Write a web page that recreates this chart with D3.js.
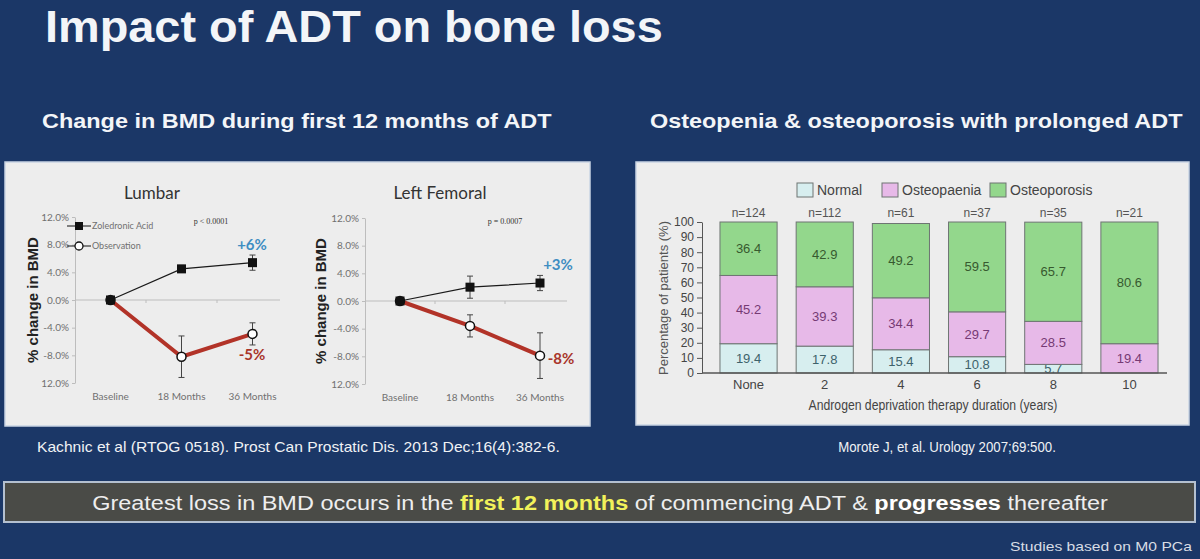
<!DOCTYPE html>
<html>
<head>
<meta charset="utf-8">
<script src="https://cdn.jsdelivr.net/npm/d3@7"></script>
<style>
  html, body { margin: 0; padding: 0; background: #1b3767; }
  svg { display: block; }
  text { white-space: pre; }
</style>
</head>
<body>
<svg id="chart" width="1200" height="559"></svg>
<script>
"use strict"

// BMD change (Kachnic et al)
const lineCategories = ["Baseline", "18 Months", "36 Months"]
const yTickValues = [12, 8, 4, 0, -4, -8, -12]
const yTickLabels = ["12.0%", "8.0%", "4.0%", "0.0%", "-4.0%", "-8.0%", "12.0%"]

const lumbarZol = [0, 4.5, 5.4]
const lumbarZolErr = [0, 0.5, 1.1]
const lumbarObs = [0, -8.2, -4.9]
const lumbarObsErr = [0, 3.0, 1.6]

const femoralZol = [0, 2.0, 2.6]
const femoralZolErr = [0, 1.6, 1.1]
const femoralObs = [0, -3.6, -7.9]
const femoralObsErr = [0, 1.6, 3.3]

// Osteopenia / osteoporosis (Morote et al)
const durations = ["None", "2", "4", "6", "8", "10"]
const nLabels = ["n=124", "n=112", "n=61", "n=37", "n=35", "n=21"]
const normal = [19.4, 17.8, 15.4, 10.8, 5.7, 0]
const osteopaenia = [45.2, 39.3, 34.4, 29.7, 28.5, 19.4]
const osteoporosis = [36.4, 42.9, 49.2, 59.5, 65.7, 80.6]
const stackNames = ["Normal", "Osteopaenia", "Osteoporosis"]

const svg = d3.select("#chart")
const sans = "'Liberation Sans', Arial, sans-serif"
const calibri = "Lato, 'Open Sans', sans-serif"
const narrow = "'Liberation Sans Narrow', 'Arial Narrow', 'Liberation Sans', sans-serif"

function fitWidth(sel, width) {
  let box = sel.node().getBBox()
  let anchor = sel.attr("text-anchor") || "start"
  let ax = anchor == "middle" ? box.x + box.width / 2 : anchor == "end" ? box.x + box.width : box.x
  let k = width / box.width
  sel.attr("transform", `translate(${ax},0) scale(${k},1) translate(${-ax},0)`)
}

svg.append("rect")
  .attr("width", 1200)
  .attr("height", 559)
  .attr("fill", "#1b3767")

// headings
fitWidth(svg.append("text")
  .attr("x", 45).attr("y", 42)
  .attr("font-family", sans).attr("font-weight", "bold").attr("font-size", 44)
  .attr("fill", "#f3f5f8")
  .text("Impact of ADT on bone loss"), 618)

fitWidth(svg.append("text")
  .attr("x", 42).attr("y", 128)
  .attr("font-family", sans).attr("font-weight", "bold").attr("font-size", 21)
  .attr("fill", "#f3f5f8")
  .text("Change in BMD during first 12 months of ADT"), 510)

fitWidth(svg.append("text")
  .attr("x", 650).attr("y", 128)
  .attr("font-family", sans).attr("font-weight", "bold").attr("font-size", 21)
  .attr("fill", "#f3f5f8")
  .text("Osteopenia & osteoporosis with prolonged ADT"), 533)

// panels
svg.append("rect")
  .attr("x", 5).attr("y", 162).attr("width", 585).attr("height", 264)
  .attr("fill", "#ededed").attr("stroke", "#c9d4e3").attr("stroke-width", 1.5)

svg.append("rect")
  .attr("x", 636).attr("y", 162).attr("width", 553).attr("height", 263)
  .attr("fill", "#ededed").attr("stroke", "#c9d4e3").attr("stroke-width", 1.5)

function drawLineChart(cfg) {
  let g = svg.append("g")
  let x = d3.scaleBand().domain(lineCategories).range(cfg.xRange)
  let y = d3.scaleLinear().domain([-12, 12]).range(cfg.yRange)
  let cx = (i) => x(lineCategories[i]) + x.bandwidth() / 2

  let axis = g.append("g")
    .attr("transform", `translate(${cfg.xRange[0]},0)`)
    .call(d3.axisLeft(y).tickValues(yTickValues).tickFormat((d, i) => yTickLabels[i]).tickSize(3).tickSizeOuter(0))
  axis.select(".domain").attr("stroke", "#bdbdbd")
  axis.selectAll(".tick line").attr("stroke", "#bdbdbd")
  axis.selectAll(".tick text")
    .attr("font-family", calibri).attr("font-size", 10).attr("fill", "#707070")

  g.append("line")
    .attr("x1", cfg.xRange[0]).attr("x2", cfg.xRange[1] - 8)
    .attr("y1", y(0)).attr("y2", y(0))
    .attr("stroke", "#bdbdbd")

  g.selectAll("line.band")
    .data(lineCategories.slice(1))
    .enter().append("line")
      .attr("class", "band")
      .attr("x1", (d) => x(d)).attr("x2", (d) => x(d))
      .attr("y1", y(0)).attr("y2", y(0) + 3)
      .attr("stroke", "#bdbdbd")

  g.selectAll("text.cat")
    .data(lineCategories)
    .enter().append("text")
      .attr("class", "cat")
      .attr("x", (d) => x(d) + x.bandwidth() / 2)
      .attr("y", cfg.yRange[0] + 17)
      .attr("text-anchor", "middle")
      .attr("font-family", calibri).attr("font-size", 10).attr("fill", "#707070")
      .text((d) => d)

  g.append("text")
    .attr("x", cfg.titleX).attr("y", 199)
    .attr("text-anchor", "middle")
    .attr("font-family", calibri).attr("font-size", 17).attr("fill", "#333")
    .text(cfg.title)

  g.append("text")
    .attr("transform", `translate(${cfg.axisTitleX},${y(0)}) rotate(-90)`)
    .attr("text-anchor", "middle")
    .attr("font-family", sans).attr("font-weight", "bold").attr("font-size", 15).attr("fill", "#222")
    .text("% change in BMD")

  g.append("text")
    .attr("x", cfg.pX).attr("y", 224)
    .attr("text-anchor", "middle")
    .attr("font-family", "'Liberation Serif', serif").attr("font-size", 8).attr("fill", "#333")
    .text(cfg.pText)

  let line = d3.line().x((d, i) => cx(i)).y((d) => y(d))

  g.append("path")
    .attr("d", line(cfg.zol))
    .attr("fill", "none").attr("stroke", "#1a1a1a").attr("stroke-width", 1.2)

  let errors = []
  cfg.zol.forEach((v, i) => { if (cfg.zolErr[i] > 0) errors.push({ i, lo: v - cfg.zolErr[i], hi: v + cfg.zolErr[i] }) })
  cfg.obs.forEach((v, i) => { if (cfg.obsErr[i] > 0) errors.push({ i, lo: v - cfg.obsErr[i], hi: v + cfg.obsErr[i] }) })

  let err = g.selectAll("g.err").data(errors).enter().append("g").attr("class", "err")
    .attr("stroke", "#444").attr("stroke-width", 1)
  err.append("line")
    .attr("x1", (d) => cx(d.i)).attr("x2", (d) => cx(d.i))
    .attr("y1", (d) => y(d.lo)).attr("y2", (d) => y(d.hi))
  err.append("line")
    .attr("x1", (d) => cx(d.i) - 3).attr("x2", (d) => cx(d.i) + 3)
    .attr("y1", (d) => y(d.lo)).attr("y2", (d) => y(d.lo))
  err.append("line")
    .attr("x1", (d) => cx(d.i) - 3).attr("x2", (d) => cx(d.i) + 3)
    .attr("y1", (d) => y(d.hi)).attr("y2", (d) => y(d.hi))

  g.append("path")
    .attr("d", line(cfg.obs))
    .attr("fill", "none").attr("stroke", "#b23328").attr("stroke-width", 4)

  g.selectAll("circle.obs")
    .data(cfg.obs)
    .enter().append("circle")
      .attr("class", "obs")
      .attr("cx", (d, i) => cx(i)).attr("cy", (d) => y(d))
      .attr("r", 4.5)
      .attr("fill", "#fff").attr("stroke", "#111").attr("stroke-width", 1.5)

  g.selectAll("rect.zol")
    .data(cfg.zol)
    .enter().append("rect")
      .attr("class", "zol")
      .attr("x", (d, i) => cx(i) - 4.5).attr("y", (d) => y(d) - 4.5)
      .attr("width", 9).attr("height", 9)
      .attr("fill", "#111")

  g.append("text")
    .attr("x", cfg.zolLabelAt[0]).attr("y", cfg.zolLabelAt[1])
    .attr("text-anchor", "middle")
    .attr("font-family", calibri).attr("font-weight", "bold").attr("font-size", 15).attr("fill", "#3f8dc2")
    .text(cfg.zolLabel)

  g.append("text")
    .attr("x", cfg.obsLabelAt[0]).attr("y", cfg.obsLabelAt[1])
    .attr("text-anchor", "middle")
    .attr("font-family", calibri).attr("font-weight", "bold").attr("font-size", 15).attr("fill", "#a8352a")
    .text(cfg.obsLabel)

  if (cfg.legend) {
    let lg = g.append("g").attr("font-family", calibri).attr("font-size", 9).attr("fill", "#707070")
    lg.append("line").attr("x1", 67).attr("x2", 91).attr("y1", 226).attr("y2", 226).attr("stroke", "#111")
    lg.append("rect").attr("x", 75).attr("y", 222).attr("width", 8).attr("height", 8).attr("fill", "#111")
    lg.append("text").attr("x", 92).attr("y", 229).text("Zoledronic Acid")
    lg.append("line").attr("x1", 67).attr("x2", 91).attr("y1", 246).attr("y2", 246).attr("stroke", "#111")
    lg.append("circle").attr("cx", 79).attr("cy", 246).attr("r", 4).attr("fill", "#fff").attr("stroke", "#111").attr("stroke-width", 1.3)
    lg.append("text").attr("x", 92).attr("y", 249).text("Observation")
  }
}

drawLineChart({
  title: "Lumbar", titleX: 152,
  xRange: [75, 288], yRange: [383, 217],
  zol: lumbarZol, zolErr: lumbarZolErr, obs: lumbarObs, obsErr: lumbarObsErr,
  pText: "p < 0.0001", pX: 211,
  zolLabel: "+6%", zolLabelAt: [252, 250],
  obsLabel: "-5%", obsLabelAt: [252, 360],
  axisTitleX: 38, legend: true
})

drawLineChart({
  title: "Left Femoral", titleX: 440,
  xRange: [365, 575], yRange: [384, 218],
  zol: femoralZol, zolErr: femoralZolErr, obs: femoralObs, obsErr: femoralObsErr,
  pText: "p = 0.0007", pX: 505,
  zolLabel: "+3%", zolLabelAt: [558, 270],
  obsLabel: "-8%", obsLabelAt: [561, 364],
  axisTitleX: 326, legend: false
})

// stacked bar chart
let rows = durations.map((d, i) => ({
  duration: d,
  Normal: normal[i],
  Osteopaenia: osteopaenia[i],
  Osteoporosis: osteoporosis[i]
}))
let stacked = d3.stack().keys(stackNames)(rows)

let fills = { Normal: "#d7eeef", Osteopaenia: "#e7b9e8", Osteoporosis: "#93d78c" }
let inks = { Normal: "#3d626b", Osteopaenia: "#763a74", Osteoporosis: "#37592f" }

let bx = d3.scaleBand().domain(durations).range([702, 1176]).paddingInner(0.25).paddingOuter(0.236)
let by = d3.scaleLinear().domain([0, 100]).range([373, 222]).clamp(true)

let bars = svg.append("g")

let yAxis = bars.append("g")
  .attr("transform", "translate(702,0)")
  .call(d3.axisLeft(by).ticks(10).tickSize(5).tickSizeOuter(0))
yAxis.select(".domain").attr("stroke", "#555")
yAxis.selectAll(".tick line").attr("stroke", "#555")
yAxis.selectAll(".tick text")
  .attr("font-family", narrow).attr("font-size", 12).attr("fill", "#444")

stacked.forEach((s) => {
  let seg = bars.append("g")
  seg.selectAll("rect")
    .data(s.filter((d) => d[1] - d[0] > 0))
    .enter().append("rect")
      .attr("x", (d) => bx(d.data.duration))
      .attr("y", (d) => by(d[1]))
      .attr("width", bx.bandwidth())
      .attr("height", (d) => by(d[0]) - by(d[1]))
      .attr("fill", fills[s.key])
      .attr("stroke", "#6e7573").attr("stroke-width", 1)
  seg.selectAll("text")
    .data(s.filter((d) => d[1] - d[0] > 0))
    .enter().append("text")
      .attr("x", (d) => bx(d.data.duration) + bx.bandwidth() / 2)
      .attr("y", (d) => by((d[0] + Math.min(d[1], 100)) / 2) + 4.5)
      .attr("text-anchor", "middle")
      .attr("font-family", narrow).attr("font-size", 13).attr("fill", inks[s.key])
      .text((d) => d.data[s.key].toFixed(1))
})

bars.append("line")
  .attr("x1", 702).attr("x2", 1167)
  .attr("y1", by(0)).attr("y2", by(0))
  .attr("stroke", "#555").attr("stroke-width", 1.3)

bars.selectAll("text.n")
  .data(durations)
  .enter().append("text")
    .attr("class", "n")
    .attr("x", (d) => bx(d) + bx.bandwidth() / 2)
    .attr("y", 217)
    .attr("text-anchor", "middle")
    .attr("font-family", narrow).attr("font-size", 12).attr("fill", "#555")
    .text((d, i) => nLabels[i])

bars.selectAll("text.dur")
  .data(durations)
  .enter().append("text")
    .attr("class", "dur")
    .attr("x", (d) => bx(d) + bx.bandwidth() / 2)
    .attr("y", 389)
    .attr("text-anchor", "middle")
    .attr("font-family", narrow).attr("font-size", 13).attr("fill", "#444")
    .text((d) => d)

fitWidth(bars.append("text")
  .attr("x", 933).attr("y", 410)
  .attr("text-anchor", "middle")
  .attr("font-family", narrow).attr("font-size", 14).attr("fill", "#444")
  .text("Androgen deprivation therapy duration (years)"), 249)

bars.append("text")
  .attr("transform", "translate(668,298) rotate(-90)")
  .attr("text-anchor", "middle")
  .attr("font-family", narrow).attr("font-size", 13).attr("fill", "#555")
  .text("Percentage of patients (%)")

let legendX = [797, 882, 990]
let legend = bars.selectAll("g.legend")
  .data(stackNames)
  .enter().append("g")
    .attr("class", "legend")
    .attr("transform", (d, i) => `translate(${legendX[i]},183)`)
legend.append("rect")
  .attr("width", 16).attr("height", 14)
  .attr("fill", (d) => fills[d]).attr("stroke", "#6e7573")
legend.append("text")
  .attr("x", 20).attr("y", 11.5)
  .attr("font-family", narrow).attr("font-size", 14).attr("fill", "#444")
  .text((d) => d)

// citations
fitWidth(svg.append("text")
  .attr("x", 37).attr("y", 452)
  .attr("font-family", sans).attr("font-size", 14).attr("fill", "#f0f2f5")
  .text("Kachnic et al (RTOG 0518). Prost Can Prostatic Dis. 2013 Dec;16(4):382-6."), 523)

fitWidth(svg.append("text")
  .attr("x", 947).attr("y", 452)
  .attr("text-anchor", "middle")
  .attr("font-family", sans).attr("font-size", 14).attr("fill", "#f0f2f5")
  .text("Morote J, et al. Urology 2007;69:500."), 218)

// take-home banner
svg.append("rect")
  .attr("x", 4).attr("y", 482).attr("width", 1191).attr("height", 40)
  .attr("fill", "#4a4b47").attr("stroke", "#b4c0d0").attr("stroke-width", 2)

let banner = svg.append("text")
  .attr("x", 600).attr("y", 510)
  .attr("text-anchor", "middle")
  .attr("font-family", sans).attr("font-size", 21).attr("fill", "#eeeeee")
banner.append("tspan").text("Greatest loss in BMD occurs in the ")
banner.append("tspan").attr("font-weight", "bold").attr("fill", "#f2f25a").text("first 12 months")
banner.append("tspan").text(" of commencing ADT & ")
banner.append("tspan").attr("font-weight", "bold").attr("fill", "#ffffff").text("progresses")
banner.append("tspan").text(" thereafter")
fitWidth(banner, 1016)

fitWidth(svg.append("text")
  .attr("x", 1192).attr("y", 551)
  .attr("text-anchor", "end")
  .attr("font-family", sans).attr("font-size", 13).attr("fill", "#d8dde5")
  .text("Studies based on M0 PCa"), 183)
</script>
</body>
</html>
